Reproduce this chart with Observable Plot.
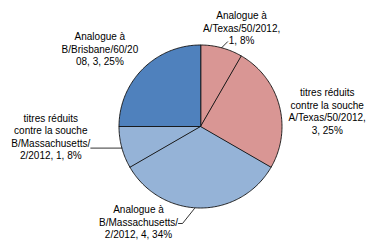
<!DOCTYPE html>
<html>
<head>
<meta charset="utf-8">
<script src="https://cdn.jsdelivr.net/npm/d3@7"></script>
<script src="https://cdn.jsdelivr.net/npm/@observablehq/plot@0.6"></script>
<style>
  html, body { margin: 0; padding: 0; background: #fff; }
  #chart svg { display: block; }
</style>
</head>
<body>
<div id="chart"></div>
<script>
// ---- data ----
const categories = [
  "Analogue à A/Texas/50/2012",
  "titres réduits contre la souche A/Texas/50/2012",
  "Analogue à B/Massachusetts/2/2012",
  "titres réduits contre la souche B/Massachusetts/2/2012",
  "Analogue à B/Brisbane/60/2008"
];
const values = [1, 3, 4, 1, 3];
const labels = [
  "Analogue à\nA/Texas/50/2012,\n1, 8%",
  "titres réduits\ncontre la souche\nA/Texas/50/2012,\n3, 25%",
  "Analogue à\nB/Massachusetts/\n2/2012, 4, 34%",
  "titres réduits\ncontre la souche\nB/Massachusetts/\n2/2012, 1, 8%",
  "Analogue à\nB/Brisbane/60/20\n08, 3, 25%"
];
const colors = ["#D99694", "#D99694", "#95B3D7", "#95B3D7", "#4F81BD"];

// ---- layout ----
const W = 380, H = 250, R = 81.5, CX = 200, CY = 126;
// label offsets (pixels) from the slice's outer mid point
const labelOffsets = [[20, -20], [48, 5.5], [-62, 13.5], [-71, -11], [-43, -20]];
// leader polylines (pixel offsets from the slice's outer mid point); null = none
const leaderOffsets = [
  [[0, 0], [6, -6]],
  null,
  [[-6, 0.5], [-18, 15.5], [-22, 15.5]],
  [[0, 0.5], [-31, 0.5]],
  null
];

const arcs = d3.pie().sort(null).value(d => d)(values);
const pt = (a, r = 1) => ({x: r * Math.sin(a), y: r * Math.cos(a)});

const marks = [];
arcs.forEach((arc, i) => {
  const n = Math.max(2, Math.ceil((arc.endAngle - arc.startAngle) / (Math.PI / 180)));
  const pts = [{x: 0, y: 0}];
  for (let k = 0; k <= n; k++) {
    pts.push(pt(arc.startAngle + (arc.endAngle - arc.startAngle) * k / n));
  }
  marks.push(Plot.line(pts, {
    x: "x", y: "y", curve: "linear-closed",
    fill: colors[i], stroke: "#111", strokeWidth: 0.9, strokeLinejoin: "round"
  }));
});

const labelData = arcs.map((arc, i) => {
  const mid = (arc.startAngle + arc.endAngle) / 2;
  const p = pt(mid);
  return {x: p.x + labelOffsets[i][0] / R, y: p.y - labelOffsets[i][1] / R, text: labels[i], mid, i};
});

arcs.forEach((arc, i) => {
  if (!leaderOffsets[i]) return;
  const p = pt((arc.startAngle + arc.endAngle) / 2);
  const pts = leaderOffsets[i].map(([dx, dy]) => ({x: p.x + dx / R, y: p.y - dy / R}));
  marks.push(Plot.line(pts, {x: "x", y: "y", stroke: "#000", strokeWidth: 0.8}));
});

marks.push(Plot.text(labelData, {
  x: "x", y: "y", text: "text",
  textAnchor: "middle", lineAnchor: "middle", lineHeight: 1.25,
  fontSize: 10, fill: "#000"
}));

const chart = Plot.plot({
  width: W, height: H,
  marginTop: 0, marginRight: 0, marginBottom: 0, marginLeft: 0,
  x: {domain: [-CX / R, (W - CX) / R], axis: null},
  y: {domain: [-(H - CY) / R, CY / R], axis: null},
  style: {fontFamily: "'Liberation Sans', Arial, sans-serif", fontSize: "10px", background: "#fff", color: "#000"},
  marks
});
document.getElementById("chart").appendChild(chart);
</script>
</body>
</html>
